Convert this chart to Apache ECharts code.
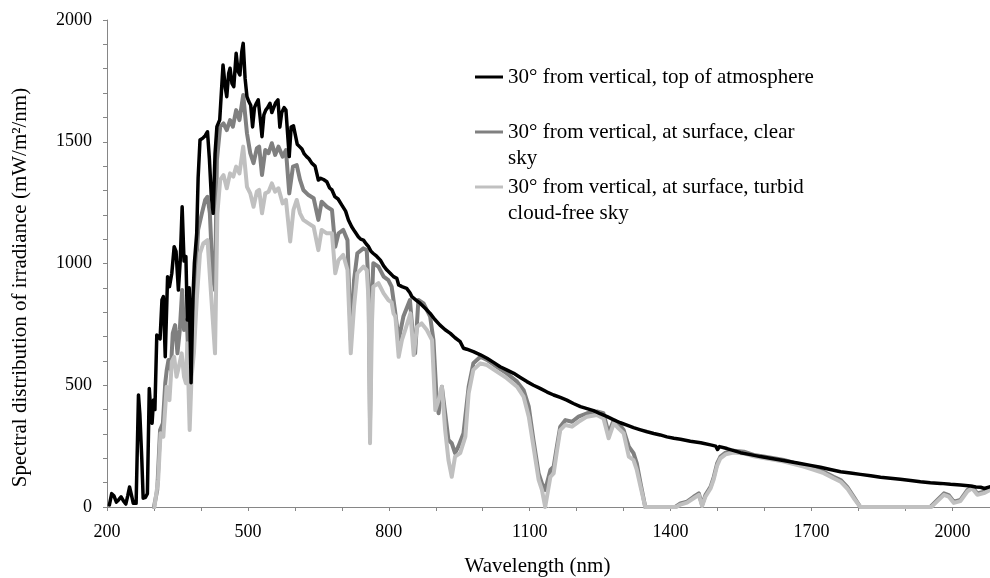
<!DOCTYPE html>
<html><head><meta charset="utf-8">
<script src="https://cdn.jsdelivr.net/npm/echarts@6/dist/echarts.min.js"></script>
<style>html,body{margin:0;padding:0;background:#fff}#c{width:990px;height:578px}</style>
</head><body><div id="c"></div>
<script>
// Series names
const seriesNames = [
  "30° from vertical, top of atmosphere",
  "30° from vertical, at surface, clear sky",
  "30° from vertical, at surface, turbid cloud-free sky"
];
const xTickLabels = [200, 500, 800, 1100, 1400, 1700, 2000];
const yTickLabels = [0, 500, 1000, 1500, 2000];

// Top of atmosphere (black)
const toaWl = [205,210,215,220,225,230,235,240,244,248,252,256,262,267,270,274,277,282,286,290,293,296,299,302,306,310,313,317,320,324,329,333,338,343,347,352,356,360,364,368,371,375,379,383,386,391,394,398,404,409,414,418,422,426,430,434,440,447,452,455,459,462,466,470,475,479,483,487,490,494,498,502,506,510,514,518,522,526,530,534,538,542,547,551,555,559,564,568,572,577,581,585,588,592,597,601,605,610,615,620,625,630,636,643,650,655,661,668,674,679,685,692,700,703,708,714,721,728,735,740,746,752,757,762,767,774,782,789,796,803,810,817,821,828,838,845,849,858,867,878,888,898,909,920,931,941,952,959,966,980,995,1009,1023,1037,1052,1066,1080,1094,1108,1122,1137,1151,1165,1179,1193,1208,1222,1236,1250,1265,1279,1293,1307,1321,1336,1350,1364,1378,1392,1407,1421,1442,1464,1485,1496,1500,1504,1520,1549,1570,1591,1612,1634,1655,1676,1698,1719,1740,1762,1783,1804,1826,1847,1868,1889,1911,1932,1953,1975,1996,2017,2039,2050,2060,2068,2081];
const toaVal = [8,55,45,20,30,42,25,12,45,82,50,15,15,460,380,200,36,40,55,487,400,344,439,400,706,699,690,850,864,617,946,905,960,1069,1050,891,1014,1233,1010,1028,768,900,510,860,1000,1124,1350,1507,1515,1525,1541,1430,1280,1206,1450,1562,1590,1815,1720,1685,1780,1802,1740,1726,1863,1790,1774,1870,1904,1760,1685,1665,1650,1561,1640,1658,1672,1600,1521,1610,1630,1640,1658,1620,1640,1660,1672,1560,1620,1640,1630,1520,1439,1560,1565,1562,1490,1480,1470,1450,1439,1430,1412,1400,1343,1350,1345,1336,1310,1302,1275,1265,1240,1233,1215,1179,1151,1130,1110,1100,1096,1080,1069,1050,1041,1030,1014,990,973,960,946,939,912,905,898,880,864,850,836,815,795,770,747,728,713,695,679,652,648,638,625,611,594,576,562,549,532,515,500,487,472,460,450,439,425,412,404,396,383,371,358,346,336,326,317,309,302,296,288,282,278,270,264,255,250,236,248,240,223,215,207,200,193,186,179,171,163,154,145,140,134,128,122,118,114,109,104,100,97,93,90,86,82,81,76,84];

// At surface, clear sky (dark grey)
const clearWl = [300,302,307,313,319,324,327,331,336,340,345,350,355,360,364,370,376,380,384,390,394,402,409,414,419,425,430,434,441,448,455,462,468,475,482,490,498,505,512,519,524,530,537,544,551,558,565,574,581,588,596,604,611,618,629,640,650,657,668,679,686,693,703,712,719,726,733,746,753,757,760,763,767,778,789,799,806,813,821,831,845,852,856,863,874,888,895,902,906,913,920,927,934,941,948,959,970,980,995,1009,1030,1051,1073,1087,1098,1108,1119,1126,1133,1144,1151,1158,1165,1176,1190,1204,1222,1243,1257,1268,1279,1289,1300,1311,1321,1328,1336,1346,1410,1421,1435,1449,1460,1467,1474,1485,1492,1499,1506,1517,1534,1556,1577,1598,1620,1641,1662,1683,1705,1726,1747,1762,1776,1790,1804,1953,1968,1982,1992,2003,2017,2032,2042,2053,2067,2081];
const clearVal = [0,0,70,316,344,508,560,604,563,713,747,631,727,891,727,768,480,782,823,987,1138,1206,1261,1274,1206,946,891,1425,1562,1575,1548,1589,1562,1630,1589,1692,1535,1453,1412,1473,1480,1363,1466,1453,1494,1446,1480,1439,1466,1288,1398,1404,1343,1302,1281,1268,1179,1254,1233,1220,1069,1124,1138,1096,686,932,1042,1062,1055,900,350,800,1001,987,946,932,905,809,686,782,850,686,631,850,836,782,686,439,385,494,385,275,262,221,248,303,494,590,617,604,576,549,515,480,412,275,138,97,70,152,166,250,330,357,350,371,385,392,385,303,357,344,316,248,221,179,97,0,0,15,22,42,56,8,49,83,124,179,207,223,231,227,214,207,200,193,182,172,159,145,124,111,83,42,0,0,29,56,49,22,29,70,83,56,63,77];

// At surface, turbid cloud-free sky (light grey)
const turbidWl = [301,304,309,314,320,327,333,338,343,348,353,359,364,368,371,376,380,385,391,398,405,414,421,430,435,441,448,455,462,469,475,482,490,498,505,512,519,524,530,537,544,551,558,565,574,581,590,597,604,611,618,629,640,650,657,668,679,686,693,703,712,719,726,733,746,753,757,760,764,767,778,789,799,806,810,814,821,828,835,846,853,860,870,881,892,899,906,913,920,927,934,941,952,963,970,980,995,1009,1030,1051,1073,1087,1098,1108,1119,1126,1133,1144,1151,1158,1165,1176,1190,1204,1222,1243,1257,1268,1279,1289,1300,1311,1321,1328,1336,1346,1412,1421,1435,1449,1460,1467,1474,1485,1492,1499,1506,1517,1534,1556,1577,1598,1620,1641,1662,1683,1705,1726,1747,1762,1776,1790,1804,1955,1968,1982,1992,2003,2017,2032,2042,2053,2067,2081];
const turbidVal = [0,0,111,303,289,494,439,597,617,535,576,631,535,508,672,316,535,631,850,1042,1083,1096,891,631,1206,1343,1363,1309,1370,1357,1398,1370,1480,1315,1288,1233,1295,1302,1206,1288,1295,1329,1295,1309,1247,1261,1090,1220,1261,1206,1179,1165,1151,1055,1138,1124,1124,960,1014,1035,973,631,823,960,987,973,850,262,750,905,919,877,850,840,795,782,617,686,727,795,624,740,754,727,686,398,439,494,316,193,124,207,221,289,467,563,590,583,556,529,494,453,371,248,111,70,0,124,138,230,316,337,330,350,371,378,364,282,344,323,303,207,193,152,83,0,0,10,18,36,50,4,42,76,115,170,200,216,224,220,208,201,194,187,176,166,153,139,118,104,76,36,0,0,24,50,43,17,24,64,77,50,57,71];

function pairs(wl, val) { return wl.map((w, i) => [w, val[i]]); }

const FONT = '"Liberation Serif", "Times New Roman", serif';
const AXIS_COLOR = '#868686';
const colors = ['#000000', '#808080', '#c0c0c0'];

const chart = echarts.init(document.getElementById('c'), null, {renderer: 'canvas'});
const legendBase = {
  orient: 'vertical', left: 475, padding: 0, itemWidth: 28, itemHeight: 3, icon: 'rect',
  itemGap: 0, selectedMode: false
};
const legendText = {fontFamily: FONT, fontSize: 21, color: '#000', lineHeight: 26};
chart.setOption({
  animation: false,
  backgroundColor: '#ffffff',
  grid: {left: 107, right: 0, top: 20, bottom: 71, containLabel: false, outerBoundsMode: 'none'},
  legend: [
    Object.assign({}, legendBase, {top: 64, data: [seriesNames[0]], textStyle: legendText}),
    Object.assign({}, legendBase, {top: 93, data: [seriesNames[1]],
      formatter: () => '\n30° from vertical, at surface, clear\nsky', textStyle: legendText}),
    Object.assign({}, legendBase, {top: 148, data: [seriesNames[2]],
      formatter: () => '\n30° from vertical, at surface, turbid\ncloud-free sky', textStyle: legendText})
  ],
  xAxis: {
    type: 'value', min: 200, max: 2080, interval: 100,
    name: 'Wavelength (nm){sp| }', nameLocation: 'middle', nameGap: 49,
    nameTextStyle: {fontFamily: FONT, fontSize: 21, color: '#000', rich: {sp: {width: 22}}},
    axisLine: {show: true, lineStyle: {color: AXIS_COLOR, width: 1}},
    axisTick: {show: true, inside: false, length: 4, lineStyle: {color: AXIS_COLOR}},
    splitLine: {show: false},
    axisLabel: {
      fontFamily: FONT, fontSize: 18, color: '#000', margin: 16,
      formatter: v => (xTickLabels.indexOf(v) >= 0 ? String(v) : '')
    }
  },
  yAxis: {
    type: 'value', min: 0, max: 2000, interval: 100,
    name: 'Spectral distribution of irradiance (mW/m²/nm){sp| }', nameLocation: 'middle', nameGap: 76, nameRotate: 90,
    nameTextStyle: {fontFamily: FONT, fontSize: 21, color: '#000', rich: {sp: {width: 48}}},
    axisLine: {show: true, lineStyle: {color: AXIS_COLOR, width: 1}},
    axisTick: {show: true, inside: false, length: 4, lineStyle: {color: AXIS_COLOR}},
    splitLine: {show: false},
    axisLabel: {
      fontFamily: FONT, fontSize: 18, color: '#000', margin: 15,
      formatter: v => (yTickLabels.indexOf(v) >= 0 ? String(v) : '')
    }
  },
  series: [
    {name: seriesNames[1], type: 'line', data: pairs(clearWl, clearVal), showSymbol: false, symbol: 'none',
     color: colors[1], lineStyle: {width: 4, color: colors[1], cap: 'round', join: 'round'}, z: 2},
    {name: seriesNames[2], type: 'line', data: pairs(turbidWl, turbidVal), showSymbol: false, symbol: 'none',
     color: colors[2], lineStyle: {width: 4, color: colors[2], cap: 'round', join: 'round'}, z: 3},
    {name: seriesNames[0], type: 'line', data: pairs(toaWl, toaVal), showSymbol: false, symbol: 'none',
     color: colors[0], lineStyle: {width: 3.5, color: colors[0], cap: 'round', join: 'round'}, z: 4}
  ]
});
</script></body></html>
